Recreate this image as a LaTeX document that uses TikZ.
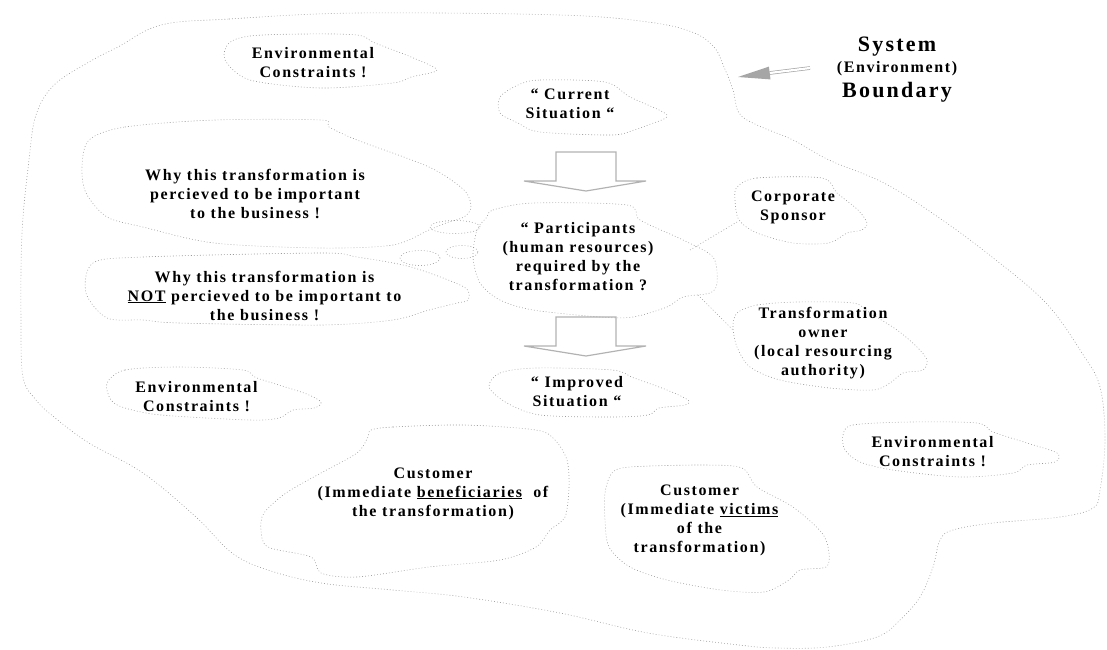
\documentclass[tikz,border=0pt]{standalone}
\usepackage{fontspec}
\setmainfont{Liberation Serif}
\newfontfamily\lblfont{Liberation Serif}[LetterSpace=10]
\begin{document}
\begin{tikzpicture}[x=1pt,y=-1pt,
  lbl/.style={font=\lblfont\bfseries\fontsize{16}{19}\selectfont, align=center, inner sep=0pt},
  big/.style={font=\lblfont\bfseries\fontsize{22}{24}\selectfont, inner sep=0pt},
  blob/.style={draw=black!40, line width=0.6pt, dash pattern=on 0.8pt off 2.2pt},
  blockarr/.style={draw=black!30, line width=1.2pt, line join=miter},
  grey arrow/.style={draw=black!35, line width=0.7pt}]
\useasboundingbox (0,0) rectangle (1107,649);

% system boundary
\draw[blob] plot[smooth cycle, tension=0.6] coordinates {(161,25) (229,19) (357,13) (560,15) (648,22) (692,32) (714,47) (724,67) (733,90) (739,113) (757,125) (793,140) (829,160) (884,183) (938,217) (992,257) (1046,303) (1082,353) (1100,387) (1105,440) (1100,490) (1093,508) (1060,517) (993,523) (953,530) (940,540) (933,567) (920,597) (900,620) (877,637) (827,647) (777,648) (739,645) (648,633) (560,613) (464,597) (393,590) (321,583) (268,570) (232,553) (196,517) (143,473) (89,443) (54,417) (36,400) (23,377) (21,320) (22,233) (29,160) (36,115) (54,85) (89,62) (118,47)};

% blobs
\draw[blob] plot[smooth cycle] coordinates {(229,43) (250,36) (300,34) (357,35) (375,43) (411,57) (437,70) (411,77) (393,83) (321,88) (250,80) (225,60)};
\draw[blob] plot[smooth cycle] coordinates {(518,85) (540,80) (605,82) (630,97) (667,115) (648,125) (634,130) (612,135) (540,132) (518,123) (500,113) (500,97)};
\draw[blob] plot[smooth cycle] coordinates {(89,140) (125,127) (214,120) (321,120) (329,127) (357,140) (429,167) (464,190) (471,207) (464,217) (446,223) (429,230) (393,245) (321,248) (214,243) (143,227) (107,217) (86,193) (82,167)};
\draw[blob] plot[smooth cycle] coordinates {(93,263) (143,257) (321,253) (357,257) (411,267) (464,287) (468,300) (457,303) (429,310) (393,320) (321,325) (179,323) (143,320) (107,318) (86,293)};
\draw[blob] plot[smooth cycle] coordinates {(487,217) (493,210) (533,203) (627,205) (640,220) (683,240) (713,257) (717,283) (710,293) (683,297) (667,307) (633,317) (600,317) (533,310) (500,300) (480,283) (473,257) (477,230)};
\draw[blob] plot[smooth cycle] coordinates {(737,187) (757,178) (822,178) (837,193) (858,210) (867,223) (862,230) (847,233) (829,243) (793,243) (757,233) (739,220) (735,200)};
\draw[blob] plot[smooth cycle] coordinates {(737,313) (757,305) (797,302) (853,303) (870,313) (897,330) (917,347) (927,360) (923,370) (903,373) (890,383) (873,390) (830,388) (780,380) (750,367) (737,347) (733,327)};
\draw[blob] plot[smooth cycle] coordinates {(489,387) (500,373) (536,368) (612,370) (634,378) (667,390) (688,400) (685,405) (659,408) (648,415) (612,417) (540,415) (507,403)};
\draw[blob] plot[smooth cycle] coordinates {(107,383) (125,370) (179,367) (243,370) (257,378) (304,393) (321,402) (314,408) (293,410) (279,418) (250,420) (161,415) (125,408) (111,400)};
\draw[blob] plot[smooth cycle] coordinates {(843,435) (853,425) (910,422) (977,423) (993,432) (1027,443) (1057,453) (1055,462) (1027,465) (1013,473) (960,477) (893,470) (860,462) (845,450)};
\draw[blob] plot[smooth cycle] coordinates {(371,430) (393,427) (464,425) (536,430) (555,440) (567,460) (569,487) (565,517) (550,530) (536,547) (500,560) (429,567) (357,577) (321,573) (311,557) (268,547) (261,530) (264,513) (286,493) (321,473) (357,453) (368,437)};
\draw[blob] plot[smooth cycle] coordinates {(605,493) (612,473) (630,467) (703,465) (742,468) (757,487) (793,507) (822,533) (829,553) (826,567) (800,570) (789,580) (764,592) (721,590) (667,580) (630,567) (609,547) (605,520)};

% thought bubbles
\draw[blob] (455,227) ellipse [x radius=25pt, y radius=6.5pt];
\draw[blob] (462,252) ellipse [x radius=16pt, y radius=6.5pt];
\draw[blob] (420,258) ellipse [x radius=20pt, y radius=7.5pt];

% block arrows
\draw[blockarr] (556,152) -- (616,152) -- (616,181) -- (646,181) -- (586,191) -- (524,181) -- (556,181) -- cycle;
\draw[blockarr] (556,317) -- (616,317) -- (616,346) -- (646,346) -- (586,356) -- (524,346) -- (556,346) -- cycle;

% labels
\node[lbl] (envtop) at (313,63) {Environmental\\Constraints !};
\node[lbl] (current) at (570,103.5) {“ Current\\Situation “};
\node[lbl] (why) at (255,193.5) {Why this transformation is\\percieved to be important\\to the business !};
\node[lbl] (whynot) at (264.5,295.5) {Why this transformation is\\\underline{NOT} percieved to be important to\\the business !};
\node[lbl] (part) at (578,257) {“ Participants\\(human resources)\\required by the\\transformation ?};
\node[lbl] (sponsor) at (793,207.5) {Corporate\\Sponsor};
\node[lbl] (owner) at (823,343) {Transformation\\owner\\(local resourcing\\authority)};
\node[lbl] (improved) at (577,392) {“ Improved\\Situation “};
\node[lbl] (envleft) at (196.5,397) {Environmental\\Constraints !};
\node[lbl] (envright) at (932.5,451.5) {Environmental\\Constraints !};
\node[lbl] (custb) at (433,493.5) {Customer\\(Immediate \underline{beneficiaries}\ \ of\\the transformation)};
\node[lbl] (custv) at (699.5,520.5) {Customer\\(Immediate \underline{victims}\\of the\\transformation)};

\node[big] (sys) at (897,47) {System};
\node[lbl] (envlbl) at (897,69) {(Environment)};
\node[big] (bnd) at (897,92) {Boundary};

% connectors from participants
\coordinate (partR) at (690,250);
\coordinate (sponsL) at (737,222);
\coordinate (partB) at (698,295);
\coordinate (ownerL) at (733,330);
\draw[blob] (partR) -- (sponsL);
\draw[blob] (partB) -- (ownerL);

% boundary pointer
\coordinate (arrT) at (810,68);
\coordinate (arrB) at (769.7,73);
\coordinate (arrH) at (738,77);
\coordinate (arrC1) at (770.5,79.4);
\coordinate (arrC2) at (768.9,66.6);
\draw[grey arrow, double=white, double distance=2.2pt] (arrT) -- (arrB);
\fill[black!35] (arrH) -- (arrC1) -- (arrC2) -- cycle;
\end{tikzpicture}
\end{document}
